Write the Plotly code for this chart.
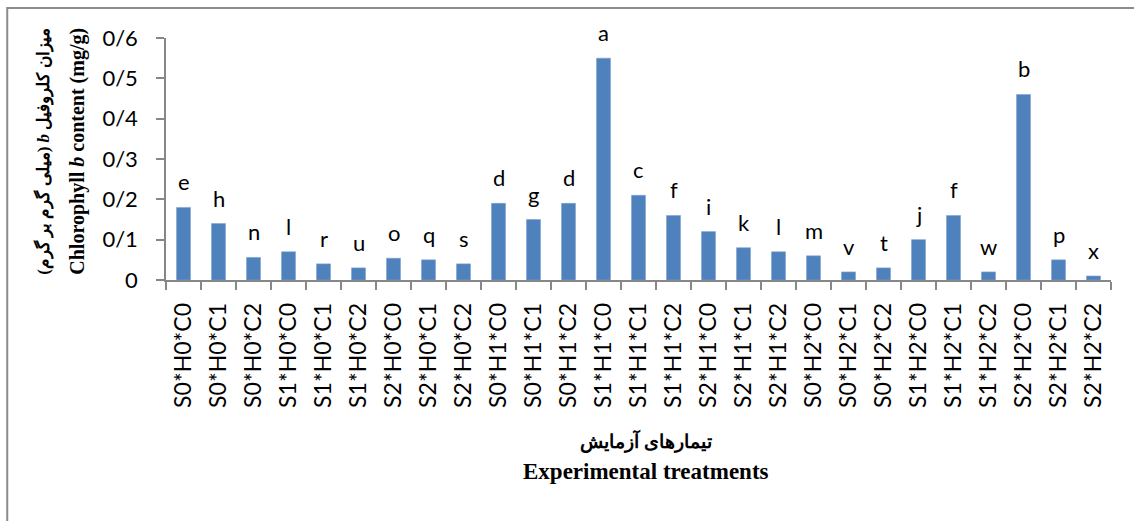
import plotly.graph_objects as go

# Treatment combinations (salinity * humic * chitosan)
treatments = [
    "S0*H0*C0", "S0*H0*C1", "S0*H0*C2", "S1*H0*C0", "S1*H0*C1", "S1*H0*C2",
    "S2*H0*C0", "S2*H0*C1", "S2*H0*C2", "S0*H1*C0", "S0*H1*C1", "S0*H1*C2",
    "S1*H1*C0", "S1*H1*C1", "S1*H1*C2", "S2*H1*C0", "S2*H1*C1", "S2*H1*C2",
    "S0*H2*C0", "S0*H2*C1", "S0*H2*C2", "S1*H2*C0", "S1*H2*C1", "S1*H2*C2",
    "S2*H2*C0", "S2*H2*C1", "S2*H2*C2",
]

# Chlorophyll b content (mg/g)
chl_b = [
    0.18, 0.14, 0.056, 0.07, 0.04, 0.03,
    0.054, 0.05, 0.04, 0.19, 0.15, 0.19,
    0.55, 0.21, 0.16, 0.12, 0.08, 0.07,
    0.06, 0.02, 0.03, 0.10, 0.16, 0.02,
    0.46, 0.05, 0.01,
]

# Mean-comparison letters
letters = [
    "e", "h", "n", "l", "r", "u", "o", "q", "s",
    "d", "g", "d", "a", "c", "f", "i", "k", "l",
    "m", "v", "t", "j", "f", "w", "b", "p", "x",
]

y_ticks = [0, 0.1, 0.2, 0.3, 0.4, 0.5, 0.6]
y_tick_text = ["0", "0/1", "0/2", "0/3", "0/4", "0/5", "0/6"]

sans = "Lato, 'Open Sans', 'DejaVu Sans', sans-serif"
serif = "'Times New Roman', 'Liberation Serif', 'DejaVu Serif', serif"
axis_grey = "#878787"

fig = go.Figure()
fig.add_trace(go.Bar(
    x=treatments,
    y=chl_b,
    width=0.4,
    marker=dict(color="#4F81BD", line=dict(color="#7FA3D0", width=0.6)),
    hoverinfo="x+y",
))

# Letters above each bar
for t, v, s in zip(treatments, chl_b, letters):
    fig.add_annotation(
        x=t, y=v, text=s, showarrow=False,
        xanchor="center", yanchor="bottom", yshift=10,
        font=dict(family=sans, size=22, color="#000000"),
    )

# Y-axis title (two lines, Persian and English); the Persian runs are
# ordered so that the right-to-left reading lays out correctly in SVG
fig.add_annotation(
    xref="paper", yref="paper", x=0, y=0.53, xshift=-122,
    text="<b>(میلی گرم بر گرم) <i>b</i> میزان کلروفیل</b>",
    textangle=-90, showarrow=False, xanchor="center", yanchor="middle",
    font=dict(family=serif, size=17, color="#000000"),
)
fig.add_annotation(
    xref="paper", yref="paper", x=0, y=0.53, xshift=-88,
    text="<b>Chlorophyll <i>b</i> content (mg/g)</b>",
    textangle=-90, showarrow=False, xanchor="center", yanchor="middle",
    font=dict(family=serif, size=20, color="#000000"),
)

# X-axis title (two lines, Persian and English)
fig.add_annotation(
    xref="paper", yref="paper", x=0.508, y=0, yshift=-161,
    text="<b>تیمارهای آزمایش</b>",
    showarrow=False, xanchor="center", yanchor="middle",
    font=dict(family=serif, size=19, color="#000000"),
)
fig.add_annotation(
    xref="paper", yref="paper", x=0.508, y=0, yshift=-191,
    text="<b>Experimental treatments</b>",
    showarrow=False, xanchor="center", yanchor="middle",
    font=dict(family=serif, size=23, color="#000000"),
)

# Outer chart frame
fig.add_shape(
    type="rect", xref="paper", yref="paper",
    x0=-0.168, x1=1.05, y0=-1.1, y1=1.124,
    line=dict(color="#8C8C8C", width=2), fillcolor="rgba(0,0,0,0)",
    layer="below",
)

fig.update_layout(
    width=1134, height=521,
    margin=dict(l=166, r=23, t=38, b=241),
    plot_bgcolor="white", paper_bgcolor="white",
    showlegend=False, bargap=0.6,
    font=dict(family=sans, color="#000000"),
    xaxis=dict(
        type="category", tickangle=-90,
        tickfont=dict(family=sans, size=23, color="#000000"),
        showline=True, linecolor=axis_grey, linewidth=1.5,
        ticks="outside", ticklen=8, tickcolor=axis_grey, tickwidth=1.5,
        tickson="boundaries", showgrid=False, ticklabelstandoff=12,
    ),
    yaxis=dict(
        range=[0, 0.6], tickvals=y_ticks, ticktext=y_tick_text,
        tickfont=dict(family=sans, size=22, color="#000000"),
        showline=True, linecolor=axis_grey, linewidth=1.5,
        ticks="outside", ticklen=8, tickcolor=axis_grey, tickwidth=1.5,
        showgrid=False, zeroline=False, ticklabelstandoff=14,
    ),
)

fig.write_html("out.html")
